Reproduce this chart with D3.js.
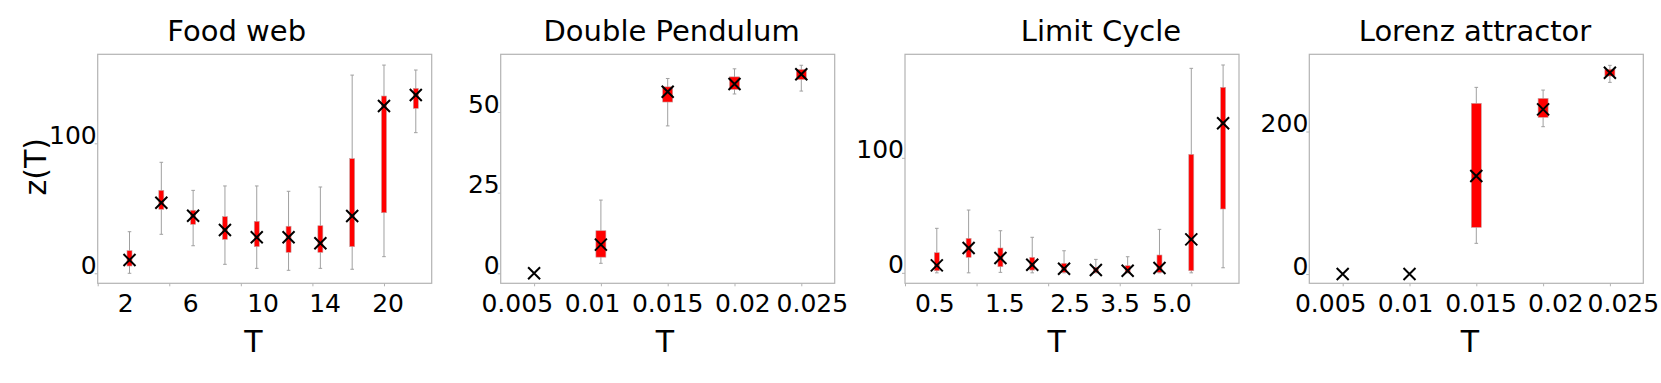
<!DOCTYPE html>
<html>
<head>
<meta charset="utf-8">
<script src="https://cdn.jsdelivr.net/npm/d3@7"></script>
<style>
    body { margin: 0; background: #fff; }
    svg { display: block; font-family: "DejaVu Sans", sans-serif; }
</style>
</head>
<body>
<div id="chart"></div>
<script>
// box stats are [whisker low, q1, median, q3, whisker high]
const foodWebT = [2, 4, 6, 8, 10, 12, 14, 16, 20, 24];
const foodWebStats = [
    [0, 5.6, 10.2, 17.4, 32],
    [30, 49.2, 54.3, 63.8, 85.4],
    [21.2, 37.7, 44.3, 48.5, 63.8],
    [6.9, 26.1, 33.3, 43.6, 67.2],
    [3.8, 20.5, 27.7, 40, 67.2],
    [2.3, 16.1, 27.7, 36.2, 63.1],
    [3.8, 16.1, 23.1, 36.6, 66.4],
    [3.1, 20.5, 44.1, 88.2, 152.5],
    [12.8, 46.6, 128.7, 136.4, 160.2],
    [108.2, 126.9, 137.2, 142.3, 156.4]
];
const foodWebTickLabels = ['2', '6', '10', '14', '20'];

const pendulumT = [0.005, 0.01, 0.015, 0.02, 0.025];
const pendulumStats = [
    [0, 0, 0, 0, 0],
    [3.1, 5.0, 8.9, 13.2, 22.7],
    [45.7, 53.1, 56.3, 57.8, 60.4],
    [55.6, 57.0, 58.7, 60.9, 63.4],
    [56.5, 60.1, 61.7, 63.2, 64.5]
];
const pendulumTickLabels = ['0.005', '0.01', '0.015', '0.02', '0.025'];

const limitCycleT = [0.5, 1.0, 1.5, 2.0, 2.5, 3.0, 3.5, 4.0, 5.0, 6.0];
const limitCycleStats = [
    [0, 1.8, 6.5, 17.5, 38.7],
    [0, 13.5, 21.6, 30, 54.6],
    [0.4, 5.3, 12.9, 21.6, 36.6],
    [0, 2.4, 7.0, 13.5, 30.9],
    [0, 0.4, 3.6, 8.3, 19.2],
    [0, 0.1, 2.4, 4.8, 11.7],
    [0, 0, 1.8, 6.2, 14],
    [0, 0.4, 4.2, 15.5, 37.8],
    [0, 1.8, 29.1, 103, 177.8],
    [4.4, 55.5, 130, 161.3, 180.7]
];
const limitCycleTickLabels = ['0.5', '1.5', '2.5', '3.5', '5.0'];

const lorenzT = [0.005, 0.01, 0.015, 0.02, 0.025];
const lorenzStats = [
    [0, 0, 0, 0, 0],
    [0, 0, 0, 0, 0],
    [43.1, 65.5, 137.5, 239.6, 262],
    [206.8, 219.9, 231.1, 246.5, 258.2],
    [269, 277.9, 282.6, 287.3, 292.9]
];
const lorenzTickLabels = ['0.005', '0.01', '0.015', '0.02', '0.025'];

const width = 1661;
const height = 383;
const plotTop = 54.3;
const plotHeight = 229;
const plotWidth = 334;
const frameColor = '#b3b3b3';
const whiskerColor = '#a0a0a0';
const boxColor = '#ff0000';

// per panel layout: x domain, tick spots and label spots (in x-domain units)
const panels = [
    {
        title: 'Food web', keys: foodWebT, stats: foodWebStats, left: 97.7,
        categorical: true, xDomain: [0, 10.5],
        tickPos: [0, 2.25, 4.5, 6.75, 9], labelPos: [0.88, 2.92, 5.2, 7.15, 9.13],
        labels: foodWebTickLabels, yDomain: [-7.7, 168.5], yTicks: [0, 100],
        boxWidth: 5, titleX: 236.7, tX: 253.3, yLabel: true
    },
    {
        title: 'Double Pendulum', keys: pendulumT, stats: pendulumStats, left: 500.7,
        categorical: false, xDomain: [0.0025, 0.0275],
        tickPos: pendulumT, labelPos: [0.00374, 0.00938, 0.015, 0.02063, 0.02583],
        labels: pendulumTickLabels, yDomain: [-3.1, 67.9], yTicks: [0, 25, 50],
        boxWidth: 10, titleX: 671.6, tX: 665
    },
    {
        title: 'Limit Cycle', keys: limitCycleT, stats: limitCycleStats, left: 905,
        categorical: true, xDomain: [0, 10.5],
        tickPos: [0, 2.25, 4.5, 6.75, 9], labelPos: [0.94, 3.14, 5.19, 6.76, 8.39],
        labels: limitCycleTickLabels, yDomain: [-9.1, 190], yTicks: [0, 100],
        boxWidth: 5, titleX: 1101, tX: 1056.7
    },
    {
        title: 'Lorenz attractor', keys: lorenzT, stats: lorenzStats, left: 1309.3,
        categorical: false, xDomain: [0.0025, 0.0275],
        tickPos: lorenzT, labelPos: [0.0041, 0.0097, 0.01536, 0.02096, 0.02601],
        labels: lorenzTickLabels, yDomain: [-13, 308.4], yTicks: [0, 200],
        boxWidth: 10, titleX: 1475, tX: 1470
    }
];

const svg = d3.select('#chart')
  .append('svg')
    .attr('width', width)
    .attr('height', height);

panels.forEach(function(p) {
    const x = d3.scaleLinear().domain(p.xDomain).range([p.left, p.left + plotWidth]);
    const y = d3.scaleLinear().domain(p.yDomain).range([plotTop + plotHeight, plotTop]);
    const rows = p.stats.map((s, i) => ({ s: s, pos: p.categorical ? i + 1 : p.keys[i] }));
    const cx = d => x(d.pos);

    const g = svg.append('g').classed('panel', true);

    // title
    g.append('text')
        .attr('x', p.titleX)
        .attr('y', 41)
        .attr('text-anchor', 'middle')
        .style('font-size', '29px')
        .text(p.title);

    // y axis ticks
    const yAxis = d3.axisLeft(y).tickValues(p.yTicks).tickSize(3).tickPadding(1);
    const yg = g.append('g')
        .attr('transform', `translate(${p.left},0)`)
        .call(yAxis);
    yg.select('.domain').remove();
    yg.selectAll('.tick line').attr('stroke', frameColor);
    yg.selectAll('.tick text')
        .attr('x', -1)
        .attr('dy', null)
        .attr('fill', '#000')
        .style('font-size', '25px')
        .style('font-family', '"DejaVu Sans", sans-serif');

    // x axis tick marks
    const xAxis = d3.axisBottom(x).tickValues(p.tickPos).tickSize(3).tickFormat('');
    const xg = g.append('g')
        .attr('transform', `translate(0,${plotTop + plotHeight})`)
        .call(xAxis);
    xg.select('.domain').remove();
    xg.selectAll('.tick line').attr('stroke', frameColor);

    g.selectAll('.x-label')
        .data(p.labels)
      .enter()
      .append('text')
        .classed('x-label', true)
        .attr('x', (d, i) => x(p.labelPos[i]))
        .attr('y', 311.5)
        .attr('text-anchor', 'middle')
        .style('font-size', '25px')
        .text(d => d);

    // frame
    g.append('rect')
        .attr('x', p.left)
        .attr('y', plotTop)
        .attr('width', plotWidth)
        .attr('height', plotHeight)
        .attr('fill', 'none')
        .attr('stroke', frameColor)
        .attr('stroke-width', 1.2);

    const boxes = g.selectAll('.box-group')
        .data(rows)
      .enter()
      .append('g')
        .classed('box-group', true);

    const withWhisker = boxes.filter(d => d.s[4] > d.s[0]);

    // whiskers
    withWhisker.append('line')
        .attr('x1', cx).attr('x2', cx)
        .attr('y1', d => y(d.s[0]))
        .attr('y2', d => y(d.s[4]))
        .attr('stroke', whiskerColor)
        .attr('stroke-width', 1);

    [0, 4].forEach(function(k) {
        withWhisker.append('line')
            .attr('x1', d => cx(d) - 1.8)
            .attr('x2', d => cx(d) + 1.8)
            .attr('y1', d => y(d.s[k]))
            .attr('y2', d => y(d.s[k]))
            .attr('stroke', whiskerColor)
            .attr('stroke-width', 1);
    });

    // boxes q1..q3
    boxes.filter(d => d.s[3] > d.s[1])
      .append('rect')
        .attr('x', d => cx(d) - p.boxWidth / 2)
        .attr('y', d => y(d.s[3]))
        .attr('width', p.boxWidth)
        .attr('height', d => y(d.s[1]) - y(d.s[3]))
        .attr('fill', boxColor)
        .attr('stroke', '#c8a0a0')
        .attr('stroke-width', 0.6);

    // median cross
    const m = 6;
    boxes.append('path')
        .attr('d', d => {
            const px = cx(d), py = y(d.s[2]);
            return `M${px - m},${py - m}L${px + m},${py + m}M${px - m},${py + m}L${px + m},${py - m}`;
        })
        .attr('stroke', '#000')
        .attr('stroke-width', 2)
        .attr('fill', 'none');

    // x axis label
    g.append('text')
        .attr('x', p.tX)
        .attr('y', 352)
        .attr('text-anchor', 'middle')
        .style('font-size', '30px')
        .text('T');

    if (p.yLabel) {
        g.append('text')
            .attr('transform', `translate(${46},${166.7}) rotate(-90)`)
            .attr('text-anchor', 'middle')
            .style('font-size', '30px')
            .text('z(T)');
    }
});
</script>
</body>
</html>
